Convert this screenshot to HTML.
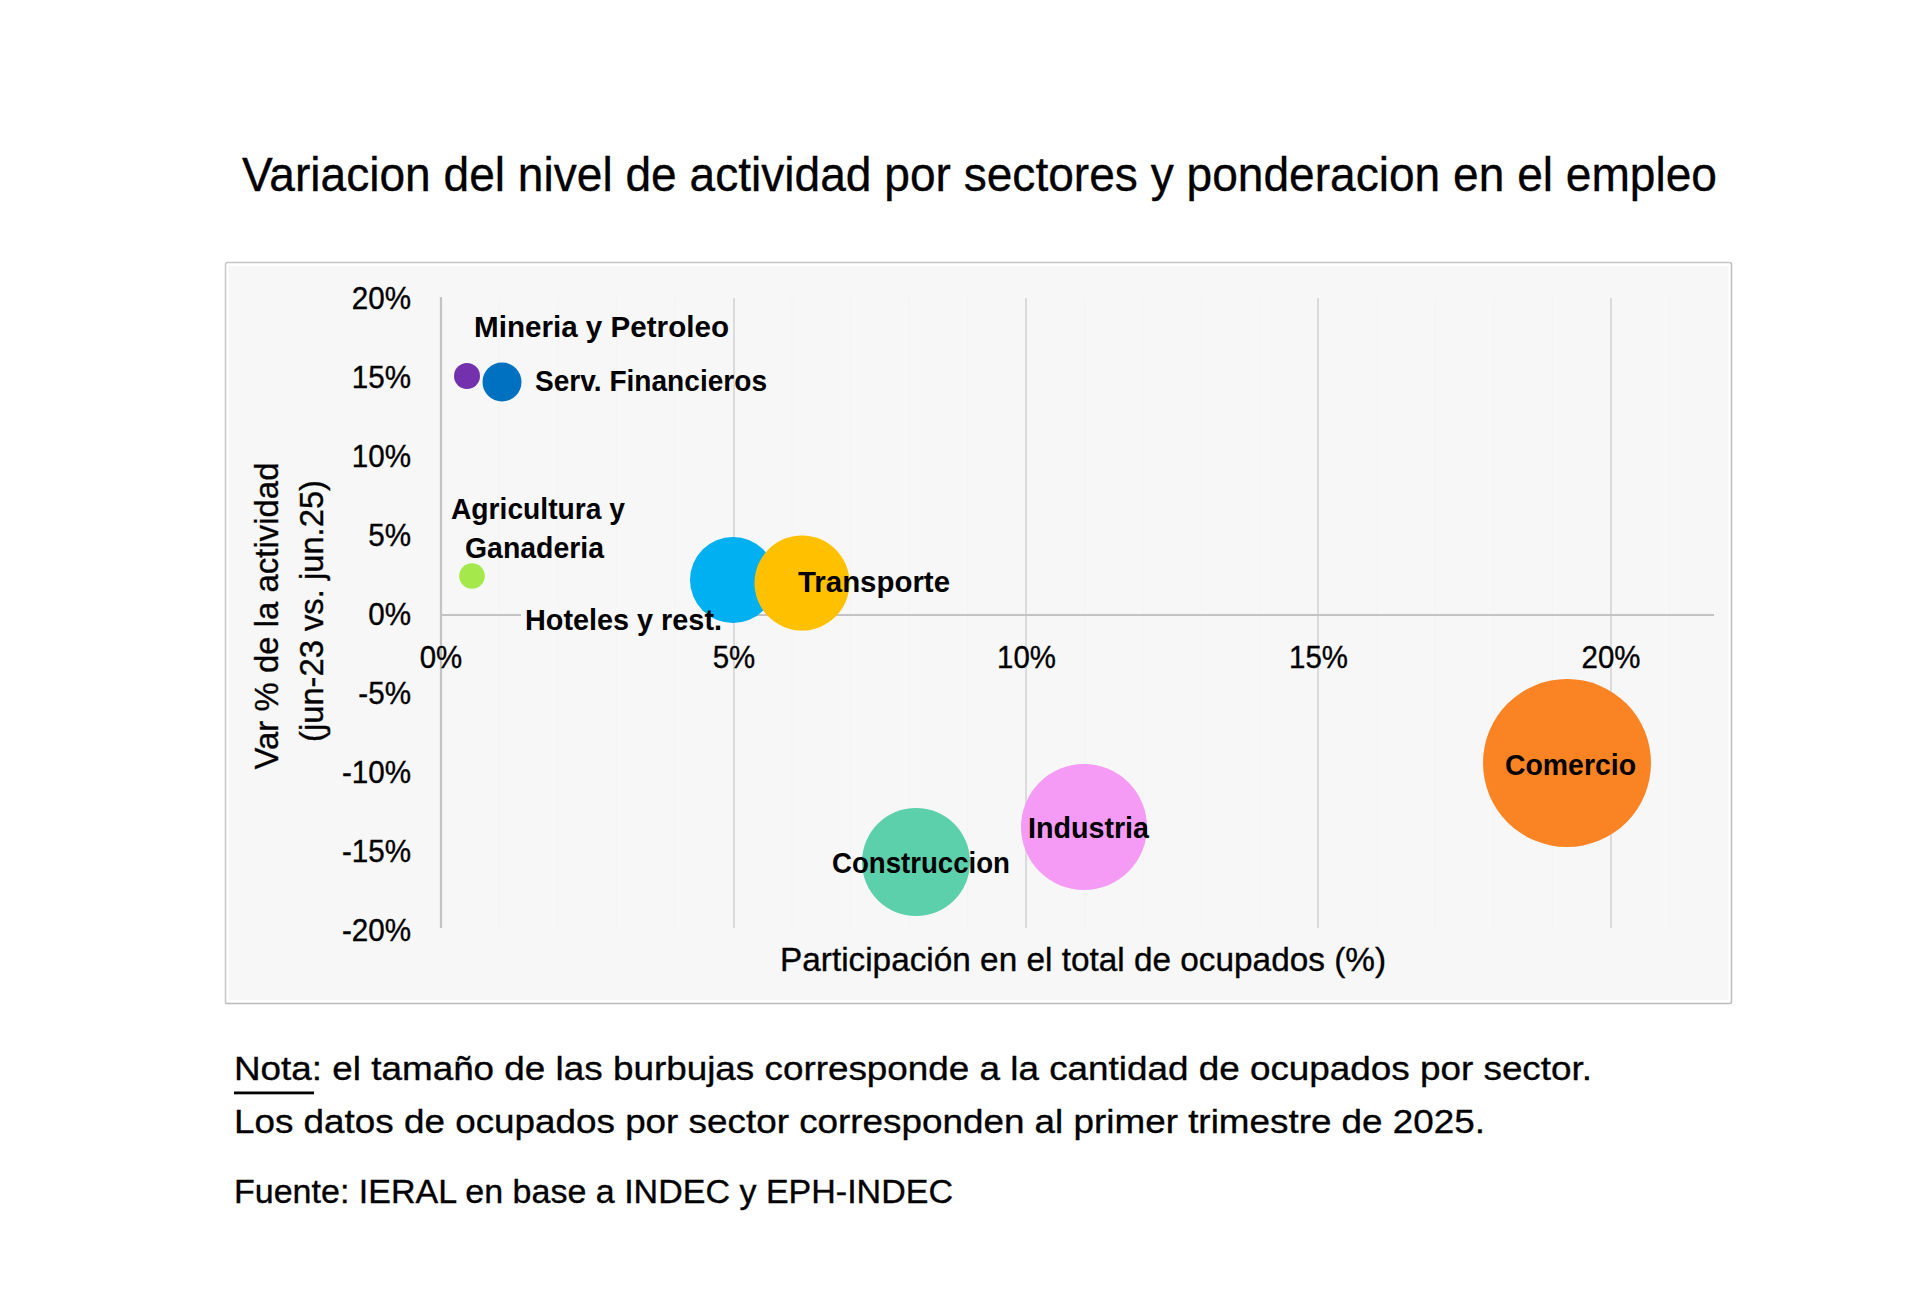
<!DOCTYPE html>
<html>
<head>
<meta charset="utf-8">
<style>
html,body{margin:0;padding:0;background:#ffffff;}
body{width:1920px;height:1301px;overflow:hidden;position:relative;}
svg{position:absolute;left:0;top:0;}
text{font-family:"Liberation Sans",sans-serif;fill:#000;stroke:#000;stroke-width:0.35px;}
.b text{font-weight:bold;stroke-width:0;}
</style>
</head>
<body>
<svg width="1920" height="1301" viewBox="0 0 1920 1301">
  <!-- Title -->
  <text x="242" y="191" font-size="48" textLength="1475" lengthAdjust="spacingAndGlyphs">Variacion del nivel de actividad por sectores y ponderacion en el empleo</text>

  <!-- Chart box -->
  <rect x="225" y="262" width="1507" height="742" fill="#ffffff"/>
  <rect x="228.5" y="266" width="1500" height="734" fill="#f7f7f7"/>
  <g stroke-width="1.5" fill="none">
    <path d="M225.5 1003.5 V264.5 Q225.5 262.5 227.5 262.5 H1729.5" stroke="#c6c6c6"/>
    <path d="M1729.5 262.5 Q1731.5 262.5 1731.5 264.5 V1001.5 Q1731.5 1003.5 1729.5 1003.5 H225.5" stroke="#bababa"/>
  </g>

  <!-- minor gridlines -->
  <g stroke="#f3f3f3" stroke-width="1">
    <line x1="499.5" y1="298" x2="499.5" y2="928"/>
    <line x1="558.0" y1="298" x2="558.0" y2="928"/>
    <line x1="616.5" y1="298" x2="616.5" y2="928"/>
    <line x1="675.0" y1="298" x2="675.0" y2="928"/>
    <line x1="792.0" y1="298" x2="792.0" y2="928"/>
    <line x1="850.5" y1="298" x2="850.5" y2="928"/>
    <line x1="909.0" y1="298" x2="909.0" y2="928"/>
    <line x1="967.5" y1="298" x2="967.5" y2="928"/>
    <line x1="1084.5" y1="298" x2="1084.5" y2="928"/>
    <line x1="1143.0" y1="298" x2="1143.0" y2="928"/>
    <line x1="1201.5" y1="298" x2="1201.5" y2="928"/>
    <line x1="1260.0" y1="298" x2="1260.0" y2="928"/>
    <line x1="1377.0" y1="298" x2="1377.0" y2="928"/>
    <line x1="1435.5" y1="298" x2="1435.5" y2="928"/>
    <line x1="1494.0" y1="298" x2="1494.0" y2="928"/>
    <line x1="1552.5" y1="298" x2="1552.5" y2="928"/>
    <line x1="1669.5" y1="298" x2="1669.5" y2="928"/>
  </g>
  <!-- gridlines -->
  <g stroke="#d2d2d2" stroke-width="1.5">
    <line x1="734" y1="298" x2="734" y2="928"/>
    <line x1="1026" y1="298" x2="1026" y2="928"/>
    <line x1="1318" y1="298" x2="1318" y2="928"/>
    <line x1="1611" y1="298" x2="1611" y2="928"/>
  </g>
  <!-- axes -->
  <g stroke="#c3c3c3" stroke-width="2.2">
    <line x1="441" y1="297" x2="441" y2="928"/>
    <line x1="441" y1="615" x2="1714" y2="615"/>
  </g>

  <!-- y tick labels -->
  <g font-size="31" text-anchor="end">
    <text transform="translate(411,309) scale(0.955,1)">20%</text>
    <text transform="translate(411,388) scale(0.955,1)">15%</text>
    <text transform="translate(411,467) scale(0.955,1)">10%</text>
    <text transform="translate(411,546) scale(0.955,1)">5%</text>
    <text transform="translate(411,625) scale(0.955,1)">0%</text>
    <text transform="translate(411,704) scale(0.955,1)">-5%</text>
    <text transform="translate(411,783) scale(0.955,1)">-10%</text>
    <text transform="translate(411,862) scale(0.955,1)">-15%</text>
    <text transform="translate(411,941) scale(0.955,1)">-20%</text>
  </g>
  <!-- x tick labels -->
  <g font-size="31" text-anchor="middle">
    <text transform="translate(441,668) scale(0.95,1)">0%</text>
    <text transform="translate(734,668) scale(0.95,1)">5%</text>
    <text transform="translate(1026.5,668) scale(0.95,1)">10%</text>
    <text transform="translate(1318.5,668) scale(0.95,1)">15%</text>
    <text transform="translate(1611,668) scale(0.95,1)">20%</text>
  </g>
  <!-- axis titles -->
  <g font-size="33" text-anchor="middle">
    <text transform="translate(278,616) rotate(-90)" textLength="307" lengthAdjust="spacingAndGlyphs">Var % de la actividad</text>
    <text transform="translate(323,611) rotate(-90)" textLength="262" lengthAdjust="spacingAndGlyphs">(jun-23 vs. jun.25)</text>
  </g>
  <text x="780" y="971" font-size="33" textLength="606" lengthAdjust="spacingAndGlyphs">Participación en el total de ocupados (%)</text>

  <rect x="521" y="606" width="200" height="26" fill="#f7f7f7"/>
  <!-- bubbles -->
  <circle cx="467" cy="376" r="13" fill="#7431ad"/>
  <circle cx="502" cy="382" r="19.5" fill="#0070c0"/>
  <circle cx="472" cy="576" r="12.8" fill="#a4e84c"/>
  <circle cx="733" cy="580" r="43" fill="#00b0f0"/>
  <circle cx="802" cy="583" r="47.5" fill="#ffc000"/>
  <circle cx="916" cy="862" r="54" fill="#5ccfab"/>
  <circle cx="1084" cy="827" r="63" fill="#f59bf5"/>
  <circle cx="1567" cy="763" r="84" fill="#fa8424"/>

  <!-- bubble labels -->
  <g font-size="29" class="b">
    <text x="474" y="337" textLength="255" lengthAdjust="spacingAndGlyphs">Mineria y Petroleo</text>
    <text x="535" y="391" textLength="232" lengthAdjust="spacingAndGlyphs">Serv. Financieros</text>
    <text x="451" y="519" textLength="174" lengthAdjust="spacingAndGlyphs">Agricultura y</text>
    <text x="465" y="558" textLength="139" lengthAdjust="spacingAndGlyphs">Ganaderia</text>
    <text x="525" y="630" textLength="197" lengthAdjust="spacingAndGlyphs">Hoteles y rest.</text>
    <text x="798" y="592" textLength="152" lengthAdjust="spacingAndGlyphs">Transporte</text>
    <text x="832" y="873" textLength="178" lengthAdjust="spacingAndGlyphs">Construccion</text>
    <text x="1028" y="838" textLength="121" lengthAdjust="spacingAndGlyphs">Industria</text>
    <text x="1505" y="775" textLength="131" lengthAdjust="spacingAndGlyphs">Comercio</text>
  </g>

  <!-- notes -->
  <g font-size="34">
    <text x="234" y="1080" textLength="1358" lengthAdjust="spacingAndGlyphs">Nota: el tamaño de las burbujas corresponde a la cantidad de ocupados por sector.</text>
    <text x="234" y="1133" textLength="1251" lengthAdjust="spacingAndGlyphs">Los datos de ocupados por sector corresponden al primer trimestre de 2025.</text>
    <text x="234" y="1203" textLength="719" lengthAdjust="spacingAndGlyphs">Fuente: IERAL en base a INDEC y EPH-INDEC</text>
  </g>
  <rect x="234" y="1091.5" width="80" height="2.8" fill="#000"/>
</svg>
</body>
</html>
